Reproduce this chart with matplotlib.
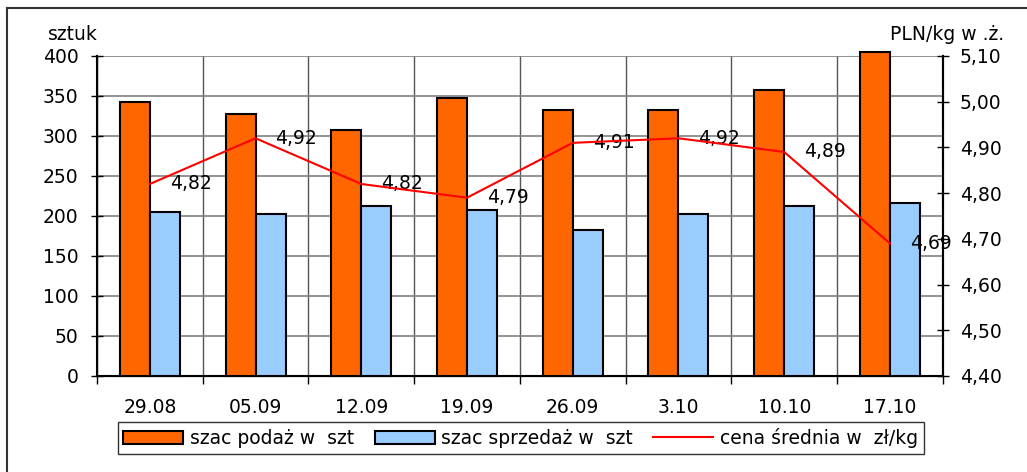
import numpy as np
import matplotlib.pyplot as plt
from matplotlib.patches import Patch
from matplotlib.lines import Line2D

plt.rcParams['font.family'] = ['DejaVu Sans']

daty = ['29.08', '05.09', '12.09', '19.09', '26.09', '3.10', '10.10', '17.10']
podaz = [343, 328, 307, 347, 333, 333, 357, 405]
sprzedaz = [205, 203, 212, 207, 183, 203, 212, 216]
cena = [4.82, 4.92, 4.82, 4.79, 4.91, 4.92, 4.89, 4.69]

fs = 13.5
fig = plt.figure(figsize=(10.27, 4.72), dpi=100)
ax = fig.add_axes([0.0944, 0.2034, 0.8236, 0.678])

x = np.arange(len(daty))
w = 0.284
ax.bar(x - w/2, podaz, w, color='#ff6600', edgecolor='black', linewidth=1.5, clip_on=False, zorder=3)
ax.bar(x + w/2, sprzedaz, w, color='#99ccff', edgecolor='black', linewidth=1.5, clip_on=False, zorder=3)

ax.set_xlim(-0.5, len(daty) - 0.5)
ax.set_ylim(0, 400)
ax.set_yticks(range(0, 401, 50))
ax.set_xticks(x)
ax.set_xticklabels(daty)
ax.set_xticks(np.arange(-0.5, len(daty), 1), minor=True)
ax.tick_params(axis='x', which='major', length=0, pad=16, labelsize=fs)
ax.tick_params(axis='x', which='minor', length=6, width=1, direction='out')
ax.tick_params(axis='y', direction='inout', length=8.6, width=1, pad=9, labelsize=fs)
ax.grid(axis='y', color='#808080', linewidth=1.2, zorder=0)
ax.grid(axis='x', which='minor', color='#555555', linewidth=1, zorder=0)
ax.set_axisbelow(True)
ax.spines['top'].set_visible(False)
for s in ['left', 'bottom', 'right']:
    ax.spines[s].set_linewidth(1.5)

ax2 = ax.twinx()
ax2.set_ylim(4.4, 5.1)
ax2.set_yticks(np.arange(4.4, 5.101, 0.1))
ax2.set_yticklabels([f"{v:.2f}".replace('.', ',') for v in np.arange(4.4, 5.101, 0.1)])
ax2.tick_params(axis='y', direction='inout', length=8.6, width=1, pad=8, labelsize=fs)
ax2.spines['top'].set_visible(False)
ax2.spines['right'].set_linewidth(1.5)
ax2.plot(x, cena, color='red', linewidth=1.5, zorder=5)
for i, v in enumerate(cena):
    ax2.annotate(f"{v:.2f}".replace('.', ','), (i, v), xytext=(20, 0),
                 textcoords='offset pixels', va='center', ha='left', fontsize=fs)

fig.text(48/1027, 1 - 34/472, 'sztuk', fontsize=fs, va='center', ha='left')
fig.text(1004/1027, 1 - 34/472, 'PLN/kg w .ż.', fontsize=fs, va='center', ha='right')

handles = [Patch(facecolor='#ff6600', edgecolor='black', linewidth=1.5),
           Patch(facecolor='#99ccff', edgecolor='black', linewidth=1.5),
           Line2D([], [], color='red', linewidth=1.5)]
labels = ['szac podaż w  szt', 'szac sprzedaż w  szt', 'cena średnia w  zł/kg']
leg = fig.legend(handles, labels, loc='center', bbox_to_anchor=(0.507, 0.072), ncol=3,
                 fontsize=fs, frameon=True, fancybox=False, edgecolor='black',
                 handlelength=3.2, handletextpad=0.35, columnspacing=1.1, borderpad=0.3)
leg.get_frame().set_linewidth(1.0)

fig.add_artist(Line2D([7/1027, 7/1027], [0, 1 - 8/472], color='#333333', linewidth=1.5))
fig.add_artist(Line2D([7/1027, 1], [1 - 8/472, 1 - 8/472], color='#333333', linewidth=1.5))

fig.savefig('out.png', dpi=100)
